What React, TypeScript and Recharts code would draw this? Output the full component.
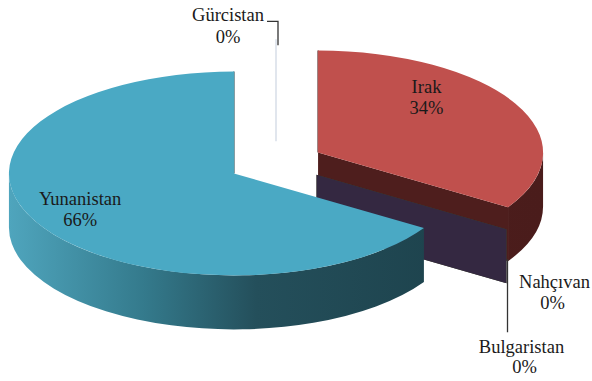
import React from "react";
import { PieChart, Pie } from "recharts";

// slices in drawing order, clockwise from 12 o'clock
const countries = ["Gürcistan", "Irak", "Nahçıvan", "Bulgaristan", "Yunanistan"];
const shares = [0, 34, 0, 0, 66];

const topColors = ["#4f81bd", "#c0504d", "#9bbb59", "#8064a2", "#4aa9c4"];
const wallColors = ["#cdd6e2", "#4e1e1d", "#3e4c22", "#342841", "#1f4954"];
const sideStops = [
  ["#3f6794", "#2e4d70", "#1e3350", "#1e3350"],
  ["#5e2422", "#55201f", "#4e1e1d", "#4a1c1b"],
  ["#6f8a3c", "#55692e", "#38461e", "#38461e"],
  ["#5a4676", "#45365b", "#2a2036", "#2a2036"],
  ["#4fa5bd", "#347a8c", "#244f5b", "#1d424c"],
];

const data = countries.map((name, i) => ({ name, value: shares[i] }));

const TILT = 0.453;
const DEPTH = 54;
const EXPLODE = 48;
const RAD = Math.PI / 180;

// label placement (style config, not data)
const INNER_LABEL: Record<string, { r: number; dy: number }> = {
  Irak: { r: 0.55, dy: -28 },
  Yunanistan: { r: 0.78, dy: -2 },
};
const ZERO_LABEL: Record<string, { l1: number[]; l2: number[]; lead?: number[][] }> = {
  "Gürcistan": { l1: [-48, -24], l2: [-48, -2], lead: [[2, 6], [2, -18], [-9, -18]] },
  "Nahçıvan": { l1: [48, 53], l2: [46, 74] },
  Bulgaristan: { l1: [15, 118], l2: [18, 138], lead: [[1, 30], [1, 103]] },
};

const FONT = "Liberation Serif";

function center(cx: number, cy: number, mid: number) {
  return [cx + EXPLODE * Math.cos(-mid * RAD), cy + EXPLODE * TILT * Math.sin(-mid * RAD)];
}

function TwoLines({ x, y, top, bottom }: { x: number[]; y: number[]; top: string; bottom: string }) {
  return (
    <g fontFamily={FONT} fontSize={18.5} fill="#1a1a1a" style={{ fontFamily: FONT }}>
      <text x={x[0]} y={y[0]} textAnchor="middle" dominantBaseline="central">{top}</text>
      <text x={x[1]} y={y[1]} textAnchor="middle" dominantBaseline="central">{bottom}</text>
    </g>
  );
}

function sliceLabel(name: string, percent: number, ox: number, oy: number, rx: number, ry: number, mid: number) {
  const txt = `${Math.round(percent * 100)}%`;
  const c = Math.cos(-mid * RAD);
  const s = Math.sin(-mid * RAD);
  if (INNER_LABEL[name]) {
    const p = INNER_LABEL[name];
    const x = ox + p.r * rx * c;
    const y = oy + p.r * ry * s + p.dy;
    return <TwoLines x={[x, x]} y={[y - 10.5, y + 10.5]} top={name} bottom={txt} />;
  }
  const z = ZERO_LABEL[name];
  if (!z) return null;
  const ax = ox + rx * c;
  const ay = oy + ry * s;
  return (
    <g>
      {z.lead && (
        <polyline
          points={z.lead.map(([dx, dy]) => `${ax + dx},${ay + dy}`).join(" ")}
          fill="none"
          stroke="#333"
          strokeWidth={1.3}
        />
      )}
      <TwoLines x={[ax + z.l1[0], ax + z.l2[0]]} y={[ay + z.l1[1], ay + z.l2[1]]} top={name} bottom={txt} />
    </g>
  );
}

function Slice3D(props: any) {
  const { cx, cy, outerRadius, startAngle, endAngle, midAngle, name, percent } = props;
  const i = countries.indexOf(name);
  const rx = outerRadius;
  const ry = outerRadius * TILT;
  const [ox, oy] = center(cx, cy, midAngle);
  const P = (a: number, d = 0) =>
    `${(ox + rx * Math.cos(-a * RAD)).toFixed(2)},${(oy + ry * Math.sin(-a * RAD) + d).toFixed(2)}`;
  const O = (d = 0) => `${ox.toFixed(2)},${(oy + d).toFixed(2)}`;
  const span = startAngle - endAngle;

  const parts: React.ReactNode[] = [];

  // outer curved side, only the front half shows
  const a = Math.max(endAngle, -180);
  const b = Math.min(startAngle, 0);
  if (span > 0 && b > a) {
    parts.push(
      <path
        key="side"
        d={`M${P(b)} A${rx},${ry} 0 0 1 ${P(a)} L${P(a, DEPTH)} A${rx},${ry} 0 0 0 ${P(b, DEPTH)} Z`}
        fill={`url(#side${i})`}
      />
    );
  }

  // radial walls facing the viewer
  const wall = (ang: number, key: string) => (
    <path key={key} d={`M${O()} L${P(ang)} L${P(ang, DEPTH)} L${O(DEPTH)} Z`} fill={wallColors[i]} />
  );
  const edge = (ang: number, key: string) => (
    <path key={key} d={`M${O()} L${P(ang)}`} stroke={wallColors[i]} strokeWidth={1.2} fill="none" />
  );
  const cs = Math.cos(startAngle * RAD);
  const ce = Math.cos(endAngle * RAD);
  if (span === 0) {
    if (Math.abs(ce) < 0.01) parts.push(edge(endAngle, "e"));
    else if (ce > 0) parts.push(wall(endAngle, "w"));
  } else {
    if (cs < -0.01) parts.push(wall(startAngle, "ws"));
    else if (Math.abs(cs) < 0.01) parts.push(edge(startAngle, "es"));
    if (ce > 0.01) parts.push(wall(endAngle, "we"));
    else if (Math.abs(ce) < 0.01) parts.push(edge(endAngle, "ee"));
  }

  if (span > 0) {
    parts.push(
      <path
        key="top"
        d={`M${O()} L${P(startAngle)} A${rx},${ry} 0 ${span > 180 ? 1 : 0} 1 ${P(endAngle)} Z`}
        fill={topColors[i]}
      />
    );
  }

  const st = sideStops[i];
  return (
    <g>
      <defs>
        <linearGradient id={`side${i}`} gradientUnits="userSpaceOnUse" x1={ox - rx} y1={0} x2={ox + rx} y2={0}>
          <stop offset="0" stopColor={st[0]} />
          <stop offset="0.3" stopColor={st[1]} />
          <stop offset="0.55" stopColor={st[2]} />
          <stop offset="1" stopColor={st[3]} />
        </linearGradient>
      </defs>
      {parts}
      {sliceLabel(name, percent, ox, oy, rx, ry, midAngle)}
    </g>
  );
}

export default function App() {
  return (
    <div style={{ position: "absolute", left: 0, top: 0, width: 592, height: 381, background: "#fff" }}>
      <PieChart width={592} height={381} margin={{ top: 0, right: 0, bottom: 0, left: 0 }}>
        <Pie
          data={data}
          dataKey="value"
          nameKey="name"
          cx={276}
          cy={163}
          outerRadius={225}
          startAngle={90}
          endAngle={-270}
          stroke="none"
          shape={Slice3D}
          label={false}
          labelLine={false}
          isAnimationActive={false}
        />
      </PieChart>
    </div>
  );
}
